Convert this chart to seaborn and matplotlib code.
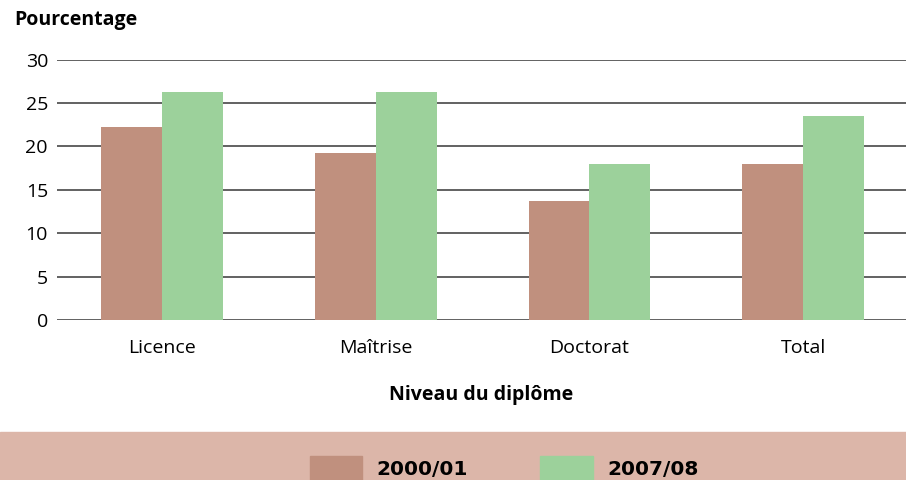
import numpy as np
import matplotlib
matplotlib.use("Agg")
import matplotlib.pyplot as plt
import matplotlib.patches as mpatches
import pandas as pd
import seaborn as sns

# data
niveaux = ['Licence', 'Maîtrise', 'Doctorat', 'Total']
annees = ['2000/01', '2007/08']
val_2000 = [22.3, 19.3, 13.7, 18.0]
val_2007 = [26.3, 26.3, 18.0, 23.5]
couleurs = ['#c0907e', '#9cd19b']

df = pd.DataFrame({
    'niveau': niveaux * 2,
    'annee': [annees[0]] * 4 + [annees[1]] * 4,
    'pct': val_2000 + val_2007,
})

sns.set_style('white')
plt.rcParams['font.family'] = ['Open Sans', 'DejaVu Sans']
plt.rcParams['text.color'] = 'black'
plt.rcParams['xtick.color'] = 'black'
plt.rcParams['ytick.color'] = 'black'
plt.rcParams['axes.labelcolor'] = 'black'
fs = 14

fig = plt.figure(figsize=(9.06, 4.8), dpi=100)
ax = fig.add_axes([57 / 906, 1 - 320 / 480, 1 - 57 / 906, (320 - 59.7) / 480])

# gridlines behind bars
for v in range(0, 31, 5):
    ax.axhline(v, color='#555555', lw=1.3, zorder=0)

sns.barplot(data=df, x='niveau', y='pct', hue='annee', palette=couleurs,
            width=0.57, saturation=1, ax=ax, legend=False, zorder=2,
            linewidth=0, edgecolor='none')

ax.set_ylim(0, 30)
ax.set_xlim(-0.49, 3.48)
ax.set_yticks(range(0, 31, 5))
ax.tick_params(axis='both', length=0, labelsize=fs)
ax.tick_params(axis='y', pad=6.5)
ax.tick_params(axis='x', pad=14)
for s in ax.spines.values():
    s.set_visible(False)
ax.set_ylabel('')
ax.set_xlabel('Niveau du diplôme', fontsize=fs, fontweight='bold', labelpad=20)

fig.text(14 / 906, 1 - 20 / 480, 'Pourcentage', fontsize=fs, fontweight='bold',
         ha='left', va='center')

# bottom legend band
fig.add_artist(mpatches.Rectangle((0, 0), 1, 48 / 480, transform=fig.transFigure,
                                  color='#dcb6a9', zorder=0))
handles = [mpatches.Patch(color=c, label=a) for c, a in zip(couleurs, annees)]
leg = fig.legend(handles=handles, ncol=2, loc='center', bbox_to_anchor=(504 / 906, 12 / 480),
                 frameon=False, handlelength=2.6, handleheight=1.44, columnspacing=3.6,
                 handletextpad=0.72, borderpad=0,
                 prop={'family': 'DejaVu Sans', 'size': 14.5, 'weight': 'bold'})

fig.savefig('out.png', dpi=100)
